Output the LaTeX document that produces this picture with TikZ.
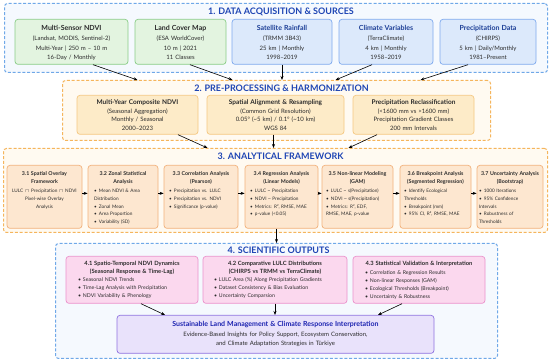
\documentclass[tikz,border=0pt]{standalone}
\usepackage{fontspec}
\setmainfont{Lato}
\usepackage{xcolor}
\usepackage{tikz}
\usetikzlibrary{arrows.meta, positioning, calc}
\definecolor{SecBlueLine}{HTML}{6FA8E8}
\definecolor{SecBlueFill}{HTML}{F5F9FE}
\definecolor{SecOrangeLine}{HTML}{F5B55C}
\definecolor{SecOrangeFill}{HTML}{FFFAF1}
\definecolor{GreenFill}{HTML}{E3F4E0}
\definecolor{GreenLine}{HTML}{8ACD87}
\definecolor{BlueFill}{HTML}{DCE9FB}
\definecolor{BlueLine}{HTML}{7FAAEE}
\definecolor{SandFill}{HTML}{FDEBC8}
\definecolor{SandLine}{HTML}{F5C882}
\definecolor{PeachFill}{HTML}{FDE7D0}
\definecolor{PeachLine}{HTML}{F2B27C}
\definecolor{PinkFill}{HTML}{FBD8EE}
\definecolor{PinkLine}{HTML}{EB92CC}
\definecolor{LilacFill}{HTML}{E9E2FB}
\definecolor{LilacLine}{HTML}{8F72E0}
\definecolor{TitleBlue}{HTML}{1E45B4}
\definecolor{BoxBlue}{HTML}{1C3E96}
\definecolor{FinalBlue}{HTML}{1B22B0}
\definecolor{BodyText}{HTML}{2B2B2B}
\newcommand{\ttl}{\fontsize{7}{9.6}\selectfont\bfseries}
\newcommand{\mtl}{\fontsize{6.5}{8.4}\selectfont\bfseries}
\newcommand{\stl}{\fontsize{5.3}{7.8}\selectfont\bfseries}
\newcommand{\otl}{\fontsize{5.8}{8}\selectfont\bfseries}
\newcommand{\itm}[1]{\par\hangindent=5pt\hangafter=1\noindent\makebox[5pt][l]{•}#1}

\begin{document}
\begin{tikzpicture}[x=1pt, y=-1pt, >={Stealth[length=4pt, width=3pt]},
    sec/.style={dash pattern=on 3pt off 1.8pt, line width=1pt, rounded corners=3pt, anchor=north west, inner sep=0pt},
    sectitle/.style={font=\fontsize{9}{11}\selectfont\bfseries, text=TitleBlue, inner sep=0pt},
    card/.style={line width=0.7pt, rounded corners=3pt, anchor=north, inner sep=0pt, text=BodyText},
    source/.style={card, minimum height=45pt, text height=11.5pt, text depth=33.5pt, align=center, font=\fontsize{6}{9.6}\selectfont},
    greenbox/.style={source, draw=GreenLine, fill=GreenFill},
    bluebox/.style={source, draw=BlueLine, fill=BlueFill},
    prepbox/.style={card, draw=SandLine, fill=SandFill, minimum height=39pt, text height=9.5pt, text depth=29.5pt, align=center, font=\fontsize{6}{8.4}\selectfont},
    stepbox/.style={card, draw=PeachLine, fill=PeachFill, minimum height=63pt, text height=10pt, text depth=53pt, align=left, font=\fontsize{4.7}{7.8}\selectfont},
    outbox/.style={card, draw=PinkLine, fill=PinkFill, minimum height=47pt, text height=9pt, text depth=38pt, align=left, font=\fontsize{5.2}{8}\selectfont},
    finalbox/.style={card, draw=LilacLine, fill=LilacFill, minimum height=38pt, text height=11.5pt, text depth=26.5pt, align=center, font=\fontsize{6}{9.5}\selectfont},
    arr/.style={->, line width=0.6pt, black}]
    \path[use as bounding box, fill=white] (0,0) rectangle (550,363);

    % 1. Data acquisition
    \node[sec, draw=SecBlueLine, fill=SecBlueFill, minimum width=543pt, minimum height=69pt] (sec1) at (4,3) {};
    \node[sectitle, below=4.5pt of sec1.north, xshift=5pt] (sec1t) {1. DATA ACQUISITION \& SOURCES};
    \node[greenbox, minimum width=113pt, text width=109pt] (msndvi) at (71.5,19) {{\ttl Multi-Sensor NDVI}\\(Landsat, MODIS, Sentinel-2)\\Multi-Year | 250 m – 10 m\\16-Day / Monthly};
    \node[greenbox, minimum width=91pt, text width=87pt] (lcm) at (180.5,19) {{\ttl Land Cover Map}\\(ESA WorldCover)\\10 m | 2021\\11 Classes};
    \node[bluebox, minimum width=100pt, text width=96pt] (trmm) at (282,19) {{\ttl\color{BoxBlue}Satellite Rainfall}\\(TRMM 3B43)\\25 km | Monthly\\1998–2019};
    \node[bluebox, minimum width=94pt, text width=90pt] (terra) at (386,19) {{\ttl\color{BoxBlue}Climate Variables}\\(TerraClimate)\\4 km | Monthly\\1958–2019};
    \node[bluebox, minimum width=96pt, text width=92pt] (chirps) at (488,19) {{\ttl\color{BoxBlue}Precipitation Data}\\(CHIRPS)\\5 km | Daily/Monthly\\1981–Present};

    % 2. Pre-processing
    \node[sec, draw=SecOrangeLine, fill=SecOrangeFill, minimum width=428pt, minimum height=60pt] (sec2) at (62,80) {};
    \node[sectitle, below=4.5pt of sec2.north, xshift=5pt] (sec2t) {2. PRE-PROCESSING \& HARMONIZATION};
    \node[prepbox, minimum width=121pt, text width=117pt] (comp) at (137.5,95) {{\mtl Multi-Year Composite NDVI}\\(Seasonal Aggregation)\\Monthly / Seasonal\\2000–2023};
    \node[prepbox, minimum width=137pt, text width=133pt] (resamp) at (275.5,95) {{\mtl Spatial Alignment \& Resampling}\\(Common Grid Resolution)\\0.05° (\textasciitilde5 km) / 0.1° (\textasciitilde10 km)\\WGS 84};
    \node[prepbox, minimum width=121pt, text width=117pt] (reclass) at (413.5,95) {{\mtl Precipitation Reclassification}\\(<1600 mm vs >1600 mm)\\Precipitation Gradient Classes\\200 mm Intervals};

    % 3. Analytical framework
    \node[sec, draw=SecOrangeLine, fill=SecOrangeFill, minimum width=544pt, minimum height=84pt] (sec3) at (3,148) {};
    \node[sectitle, below=5pt of sec3.north, xshift=5pt] (sec3t) {3. ANALYTICAL FRAMEWORK};
    \node[stepbox, align=center, minimum width=75pt, text width=69pt] (b31) at (44.5,165) {{\stl 3.1 Spatial Overlay\\Framework}\\[1.5pt]LULC $\cap$ Precipitation $\cap$ NDVI\\Pixel-wise Overlay\\Analysis};
    \node[stepbox, minimum width=70pt, text width=58pt] (b32) at (123,165) {{\centering\stl 3.2 Zonal Statistical\\Analysis\par}\vspace{1.5pt}\itm{Mean NDVI \& Area\\Distribution}\itm{Zonal Mean}\itm{Area Proportion}\itm{Variability (SD)}};
    \node[stepbox, minimum width=74pt, text width=64pt] (b33) at (201,165) {{\centering\stl 3.3 Correlation Analysis\\(Pearson)\par}\vspace{1.5pt}\itm{Precipitation vs. LULC}\itm{Precipitation vs. NDVI}\itm{Significance (p-value)}};
    \node[stepbox, minimum width=73pt, text width=63pt] (b34) at (281.5,165) {{\centering\stl 3.4 Regression Analysis\\(Linear Models)\par}\vspace{1.5pt}\itm{LULC \textasciitilde{} Precipitation}\itm{NDVI \textasciitilde{} Precipitation}\itm{Metrics: R², RMSE, MAE}\itm{p-value (<0.05)}};
    \node[stepbox, minimum width=71pt, text width=63pt] (b35) at (357.5,165) {{\centering\stl 3.5 Non-linear Modeling\\(GAM)\par}\vspace{1.5pt}\itm{LULC \textasciitilde{} s(Precipitation)}\itm{NDVI \textasciitilde{} s(Precipitation)}\itm{Metrics: R², EDF,\\RMSE, MAE, p-value}};
    \node[stepbox, minimum width=71pt, text width=63pt] (b36) at (435.5,165) {{\centering\stl 3.6 Breakpoint Analysis\\(Segmented Regression)\par}\vspace{1.5pt}\itm{Identify Ecological\\Thresholds}\itm{Breakpoint (mm)}\itm{95\% CI, R², RMSE, MAE}};
    \node[stepbox, minimum width=66pt, text width=62pt] (b37) at (510,165) {{\centering\stl 3.7 Uncertainty Analysis\\(Bootstrap)\par}\vspace{1.5pt}\itm{1000 Iterations}\itm{95\% Confidence\\Intervals}\itm{Robustness of\\Thresholds}};

    % 4. Scientific outputs
    \node[sec, draw=SecBlueLine, fill=SecBlueFill, minimum width=442pt, minimum height=115pt] (sec4) at (55,243) {};
    \node[sectitle, below=3.5pt of sec4.north, xshift=2pt] (sec4t) {4. SCIENTIFIC OUTPUTS};
    \node[outbox, minimum width=132pt, text width=108pt] (b41) at (132,256) {{\centering\otl 4.1 Spatio-Temporal NDVI Dynamics\\(Seasonal Response \& Time-Lag)\par}\itm{Seasonal NDVI Trends}\itm{Time-Lag Analysis with Precipitation}\itm{NDVI Variability \& Phenology}};
    \node[outbox, minimum width=144pt, text width=122pt] (b42) at (275,256) {{\centering\otl 4.2 Comparative LULC Distributions\\(CHIRPS vs TRMM vs TerraClimate)\par}\itm{LULC Area (\%) Along Precipitation Gradients}\itm{Dataset Consistency \& Bias Evaluation}\itm{Uncertainty Comparsion}};
    \node[outbox, minimum width=132pt, text width=108pt] (b43) at (419,256) {{\centering\otl 4.3 Statistical Validation \& Interpretation\par}\vspace{1pt}\itm{Correlation \& Regression Results}\itm{Non-linear Responses (GAM)}\itm{Ecological Thresholds (Breakpoint)}\itm{Uncertainty \& Robustness}};
    \node[finalbox, minimum width=317pt, text width=305pt] (final) at (275.5,315) {{\fontsize{7}{9.5}\selectfont\bfseries\color{FinalBlue}Sustainable Land Management \& Climate Response Interpretation}\\Evidence-Based Insights for Policy Support, Ecosystem Conservation,\\and Climate Adaptation Strategies in Türkiye};

    % Sources to pre-processing
    \draw[arr] ([xshift=21.5pt]msndvi.south) -- ([xshift=-139pt]sec2.north);
    \draw[arr] ([xshift=9.5pt]lcm.south) -- ([xshift=-44pt]sec2.north);
    \draw[arr] (trmm.south) -- (trmm.south |- sec2.north);
    \draw[arr] ([xshift=-14pt]terra.south) -- ([xshift=59pt]sec2.north);
    \draw[arr] ([xshift=-20pt]chirps.south) -- ([xshift=144pt]sec2.north);
    % Pre-processing to framework
    \draw[arr] ([xshift=40.5pt]comp.south) -- ([xshift=-68pt]sec3.north);
    \draw[arr] ([xshift=-2pt]resamp.south) -- ([xshift=-2pt]resamp.south |- sec3.north);
    \draw[arr] ([xshift=-36.5pt]reclass.south) -- ([xshift=73pt]sec3.north);
    % Framework steps
    \draw[arr] ([yshift=3.5pt]b31.east) -- ([yshift=3.5pt]b32.west);
    \draw[arr] ([yshift=3.5pt]b32.east) -- ([yshift=3.5pt]b33.west);
    \draw[arr] ([yshift=3.5pt]b33.east) -- ([yshift=3.5pt]b34.west);
    \draw[arr] ([yshift=3.5pt]b34.east) -- ([yshift=3.5pt]b35.west);
    \draw[arr] ([yshift=3.5pt]b35.east) -- ([yshift=3.5pt]b36.west);
    \draw[arr] ([yshift=3.5pt]b36.east) -- ([yshift=3.5pt]b37.west);
    % Framework to outputs
    \draw[arr] (b34.south -| sec4.north) -- (sec4.north);
    % Outputs to interpretation
    \draw[arr] ([xshift=9pt]b41.south) -- ([xshift=-110.5pt]final.north);
    \draw[arr] (b42.south) -- (b42.south |- final.north);
    \draw[arr] ([xshift=-17pt]b43.south) -- ([xshift=102.5pt]final.north);
\end{tikzpicture}
\end{document}
